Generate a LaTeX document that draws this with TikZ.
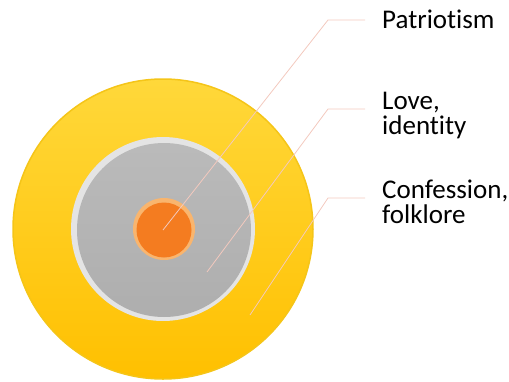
\documentclass[tikz,border=0pt]{standalone}
\usepackage{fontspec}
\setmainfont{Carlito}[Ligatures=NoCommon, RawFeature={-liga;-calt;-clig}]
\usetikzlibrary{positioning}
\definecolor{goldlight}{HTML}{FFD83A}
\definecolor{golddark}{HTML}{FFC000}
\definecolor{goldrim}{HTML}{F5C518}
\definecolor{greyrim}{HTML}{E4E4E4}
\definecolor{greyface}{HTML}{AEAEAE}
\definecolor{orangerim}{HTML}{F9B56E}
\definecolor{orangeface}{HTML}{F47C20}
\definecolor{leadpink}{HTML}{F3C9BE}
\tikzset{
	disc/.style={circle, inner sep=0pt},
	leader/.style={draw=leadpink, line width=0.8pt},
	tag/.style={anchor=base west, align=left, inner sep=0pt, font=\fontsize{27}{25}\selectfont}
}

\begin{document}
\begin{tikzpicture}[x=1pt, y=-1pt]

\useasboundingbox (0,0) rectangle (509,381);

% rings
\node[disc, minimum size=300pt, top color=goldlight, bottom color=golddark,
	draw=goldrim, line width=1.5pt] (outer) at (163,229) {};
\node[disc, minimum size=184pt, fill=greyrim] (middle) at (163,229) {};
\node[disc, minimum size=174pt, top color=greyface!85!white, bottom color=greyface] (middleface) at (164,230) {};
\node[disc, minimum size=62pt, fill=orangerim] (core) at (164,229) {};
\node[disc, minimum size=55pt, fill=orangeface] (coreface) at (164,230) {};

% labels
\node[tag] (patriot) at (382,28) {Patriotism};
\node[tag] (love) at (382,134) {Love,\\identity};
\node[tag] (confess) at (382,223) {Confession,\\folklore};

% leaders
\coordinate (pin1) at (163,230);
\coordinate (pin2) at (207,272);
\coordinate (pin3) at (250,315);
\coordinate (bend1) at (328,20);
\coordinate (bend2) at (328,109);
\coordinate (bend3) at (328,198);

\draw[leader] (pin1) -- (bend1) -- ++(37,0);
\draw[leader] (pin2) -- (bend2) -- ++(37,0);
\draw[leader] (pin3) -- (bend3) -- ++(37,0);

\end{tikzpicture}
\end{document}
